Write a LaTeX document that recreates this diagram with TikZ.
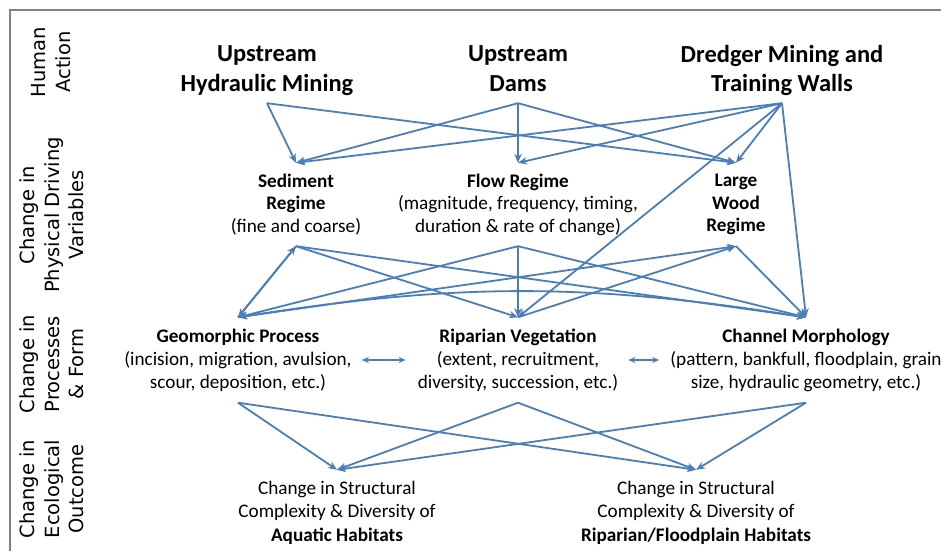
\documentclass[tikz,border=0pt]{standalone}
\usepackage{fontspec}
\setmainfont{Carlito}
\newfontfamily\sidefont{DejaVu Sans}
\usetikzlibrary{arrows.meta}
\definecolor{linkblue}{RGB}{74,126,187}
\definecolor{framegray}{RGB}{130,130,130}
\begin{document}
\begin{tikzpicture}[x=1pt,y=-1pt,
  act/.style={align=center,inner sep=0pt,minimum height=60pt,font=\fontsize{24.5}{29.5}\selectfont\bfseries,
    execute at begin node=\strut,execute at end node=\strut},
  var/.style={align=center,inner sep=0pt,minimum height=83pt,font=\fontsize{19.2}{22.5}\selectfont},
  proc/.style={align=center,inner sep=0pt,minimum height=85pt,font=\fontsize{19.2}{23}\selectfont},
  outc/.style={align=center,inner sep=0pt,minimum height=85pt,font=\fontsize{19.2}{23.5}\selectfont},
  side/.style={align=center,rotate=90,inner sep=0pt,font=\sidefont\fontsize{19.5}{24.5}\selectfont},
  link/.style={-{Stealth[length=9pt,width=7.5pt]},line width=1.8pt,draw=linkblue},
  both/.style={{Stealth[length=7pt,width=6pt]}-{Stealth[length=7pt,width=6pt]},line width=1.5pt,draw=linkblue}]
\useasboundingbox (0,0) rectangle (941,551);
\draw[framegray,line width=2pt] (10,551) -- (10,10) -- (941,10);

\node[side] (hum) at (51,62) {Human\\Action};
\node[side] (phy) at (52,215) {Change in\\Physical Driving\\Variables};
\node[side] (pro) at (52,364) {Change in\\Processes\\\& Form};
\node[side] (eco) at (52,489) {Change in\\Ecological\\Outcome};

\node[act] (hyd) at (267,73) {Upstream\\Hydraulic Mining};
\node[act] (dam) at (518,73) {Upstream\\Dams};
\node[act] (dre) at (782,73) {Dredger Mining and\\Training Walls};

\node[var] (sed) at (296,204.5) {\textbf{Sediment}\\\textbf{Regime}\\(fine and coarse)};
\node[var] (flo) at (518,204.5) {\textbf{Flow Regime}\\(magnitude, frequency, timing,\\duration \& rate of change)};
\node[var] (lwd) at (736,204.5) {\textbf{Large}\\\textbf{Wood}\\\textbf{Regime}};

\node[proc] (geo) at (238,360) {\textbf{Geomorphic Process}\\(incision, migration, avulsion,\\scour, deposition, etc.)};
\node[proc] (rip) at (518,360) {\textbf{Riparian Vegetation}\\(extent, recruitment,\\diversity, succession, etc.)};
\node[proc] (cha) at (806,360) {\textbf{Channel Morphology}\\(pattern, bankfull, floodplain, grain\\size, hydraulic geometry, etc.)};

\node[outc] (aqu) at (337,512.5) {Change in Structural\\Complexity \& Diversity of\\\textbf{Aquatic Habitats}};
\node[outc] (rfh) at (696,512.5) {Change in Structural\\Complexity \& Diversity of\\\textbf{Riparian/Floodplain Habitats}};

\draw[link] (hyd.south) -- (sed.north);
\draw[link] (hyd.south) -- (lwd.north);
\draw[link] (dam.south) -- (sed.north);
\draw[link] (dam.south) -- (flo.north);
\draw[link] (dam.south) -- (lwd.north);
\draw[link] (dre.south) -- (sed.north);
\draw[link] (dre.south) -- (flo.north);
\draw[link] (dre.south) -- (lwd.north);
\draw[link] (dre.south) -- (rip.north);
\draw[link] (dre.south) -- (cha.north);

\draw[link] (geo.north) -- (sed.south);
\draw[link] (sed.south) -- (geo.north);
\draw[link] (sed.south) -- (rip.north);
\draw[link] (sed.south) -- (cha.north);
\draw[link] (flo.south) -- (geo.north);
\draw[link] (flo.south) -- (rip.north);
\draw[link] (flo.south) -- (cha.north);
\draw[link] (geo.north) -- (lwd.south);
\draw[link] (rip.north) -- (lwd.south);
\draw[link] (lwd.south) -- (cha.north);
\draw[link,{Stealth[length=9pt,width=7.5pt]}-{Stealth[length=9pt,width=7.5pt]}] (geo.north) to[bend left=9] (cha.north);

\draw[both,shorten <=10pt,shorten >=12pt] (geo.east) -- (rip.west);
\draw[both,shorten <=10pt,shorten >=11pt] (rip.east) -- (cha.west);

\draw[link] (geo.south) -- (aqu.north);
\draw[link] (geo.south) -- (rfh.north);
\draw[link] (rip.south) -- (aqu.north);
\draw[link] (rip.south) -- (rfh.north);
\draw[link] (cha.south) -- (aqu.north);
\draw[link] (cha.south) -- (rfh.north);
\end{tikzpicture}
\end{document}
